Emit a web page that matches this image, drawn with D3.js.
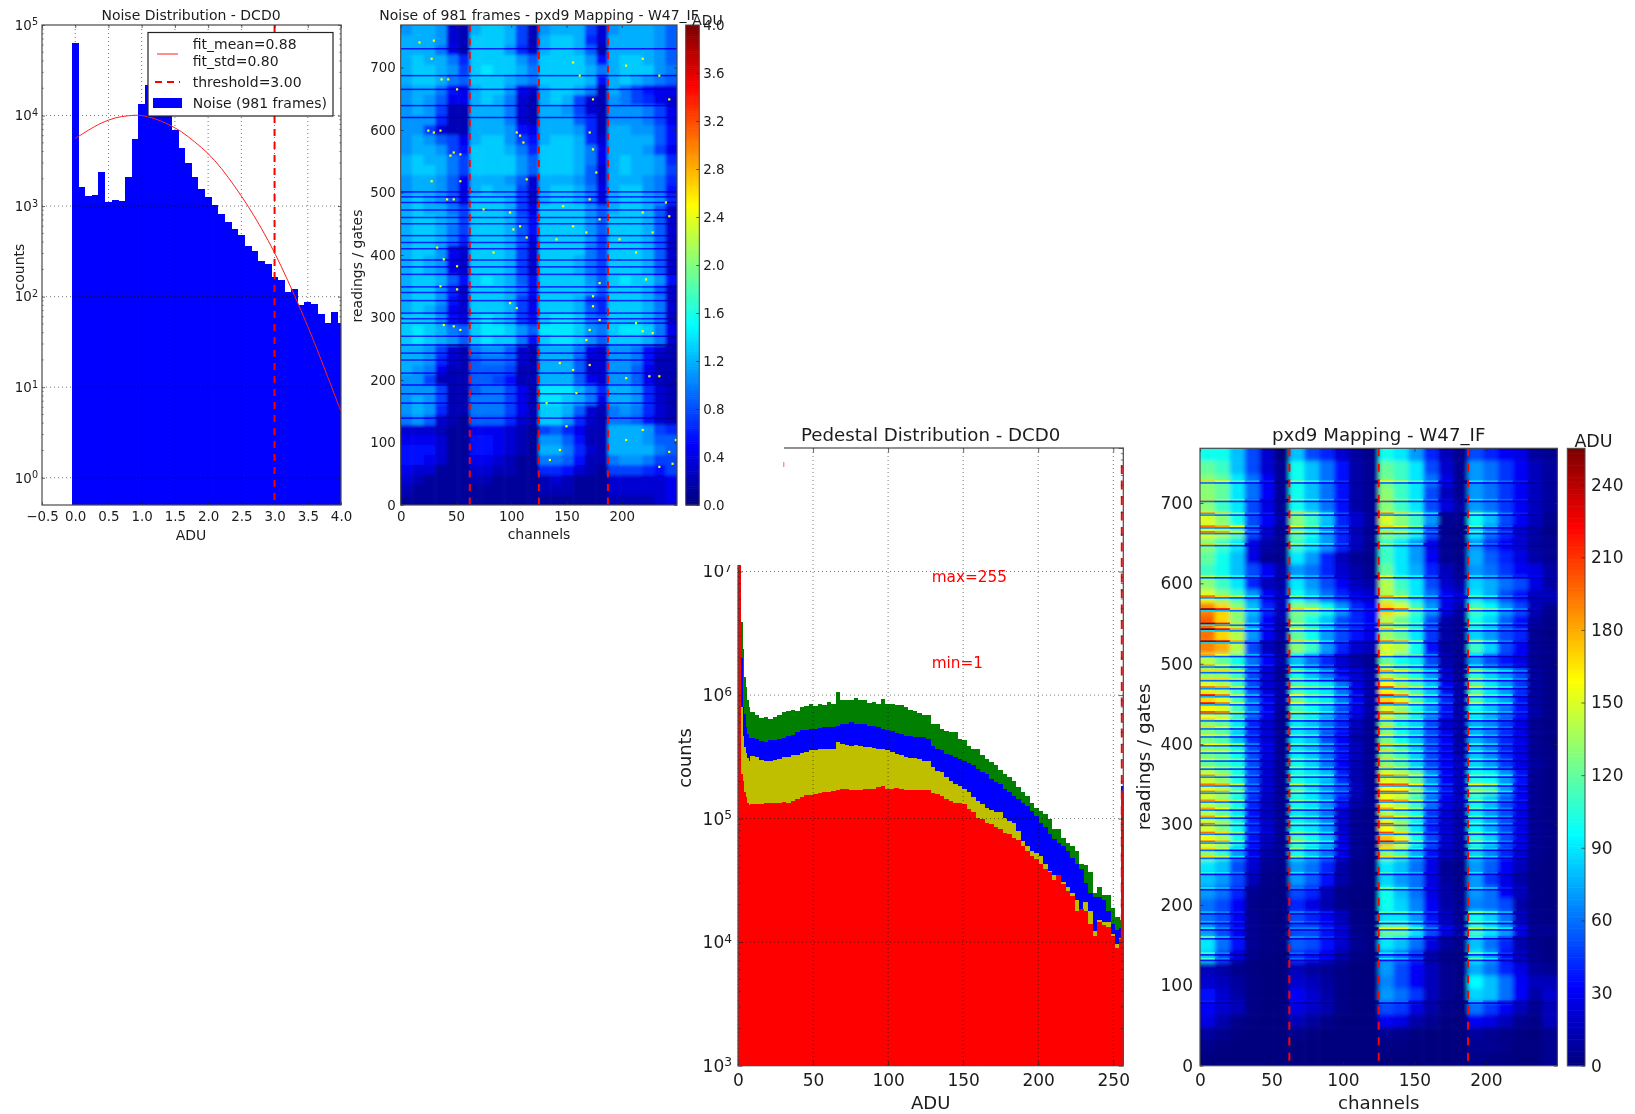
<!DOCTYPE html>
<html><head><meta charset="utf-8">
<script src="https://cdn.jsdelivr.net/npm/d3@7"></script>
<style>
html,body{margin:0;padding:0;background:#fff;width:1635px;height:1114px;overflow:hidden}
svg{position:absolute;left:0;top:0}
text{font-family:"DejaVu Sans";fill:#1c1c1c}
</style></head><body>
<script>
// ---------- Noise histogram ----------
const noiseBinStart=-0.05, noiseBinWidth=0.1;
const noiseCounts=[63000,1630,1290,1320,2390,1100,1180,1150,2090,5530,13500,22000,18000,14000,11000,7000,4330,3030,2100,1550,1250,1030,810,667,557,475,359,319,247,227,165,153,113,122,80,88,82,65,51,68,51];
const fitX=[0,0.1,0.2,0.4,0.6,0.8,1,1.2,1.4,1.6,1.8,2,2.2,2.4,2.6,2.8,3,3.2,3.4,3.6,3.8,4];
const fitY=[5600,6200,6900,8300,9400,9950,10000,9200,8000,6600,5100,3800,2600,1650,1000,570,305,150,70,31,13,5.4];
const noiseHistXTicks=[-0.5,0,0.5,1,1.5,2,2.5,3,3.5,4];
const thresholdADU=3;
const legendLines=["fit_mean=0.88","fit_std=0.80","threshold=3.00","Noise (981 frames)"];
// ---------- Heat maps: 24 columns x 48 rows, top row first ----------
const noiseGrid=[ // units of 0.1 ADU
[10,11,11,10,3,2,11,12,12,11,7,2,10,11,11,11,7,3,10,11,11,11,10,8],
[11,11,11,10,3,2,12,12,12,11,7,2,11,12,12,11,6,3,11,11,11,11,10,8],
[11,11,11,9,4,2,12,12,12,10,6,3,11,12,12,11,8,2,11,11,11,11,10,8],
[11,12,11,11,9,6,12,12,12,12,10,8,12,12,12,12,10,5,11,12,12,11,10,8],
[11,12,12,11,10,7,12,13,12,12,11,9,12,12,12,12,11,9,11,12,12,12,10,9],
[11,12,12,11,9,8,12,12,12,11,10,9,12,12,12,12,11,5,11,12,11,10,9,8],
[10,11,11,9,5,4,11,12,12,10,4,3,11,12,12,11,9,2,11,9,7,5,4,4],
[10,11,10,8,4,4,11,12,11,9,3,2,11,12,11,7,3,2,10,9,7,6,4,3],
[10,11,10,7,2,2,11,11,11,9,3,2,11,11,10,7,3,2,10,10,10,9,7,4],
[10,10,10,6,2,2,11,11,11,9,3,2,11,11,11,8,6,2,10,10,10,9,7,4],
[10,10,7,3,2,2,11,11,11,10,5,4,11,11,11,10,6,2,11,11,10,10,8,5],
[10,11,10,8,7,4,11,12,12,10,7,5,11,12,12,11,6,3,11,11,11,11,8,5],
[10,11,11,10,7,5,12,12,12,11,9,6,12,12,12,11,9,4,11,11,11,10,7,4],
[11,12,11,11,9,7,12,12,12,12,10,8,12,12,12,11,9,4,11,12,11,11,10,6],
[11,12,12,11,9,7,12,12,12,12,10,8,12,12,12,11,8,3,11,12,11,11,10,7],
[10,11,11,10,8,4,11,11,11,10,8,3,11,11,11,10,8,3,11,11,11,10,9,6],
[10,11,11,10,8,4,11,12,11,11,7,3,11,12,12,11,9,4,11,12,12,10,9,5],
[11,12,11,10,8,4,12,12,12,11,7,3,11,12,12,11,9,4,11,12,12,11,10,6],
[11,12,11,11,9,7,12,12,12,11,7,4,12,12,12,12,10,8,11,12,12,11,8,3],
[11,12,12,11,10,7,12,12,12,11,8,5,12,12,12,12,10,8,12,12,12,11,8,3],
[11,12,12,11,9,7,12,12,12,11,8,5,12,12,12,12,10,8,12,12,12,11,8,3],
[11,12,12,11,9,6,12,12,12,11,8,4,12,12,12,12,10,7,12,12,12,11,8,3],
[11,12,12,10,4,3,12,12,12,11,7,3,12,12,12,12,9,7,12,12,12,11,8,3],
[11,12,11,10,4,3,12,12,12,11,7,3,12,12,12,11,9,7,12,12,12,11,8,3],
[11,12,11,10,4,3,12,12,12,11,7,3,12,12,12,11,9,7,12,12,12,11,8,3],
[11,12,12,11,8,5,12,13,12,11,8,5,12,12,12,12,10,8,12,13,12,12,10,5],
[11,12,12,10,6,3,12,12,12,11,9,5,12,12,12,12,11,8,12,12,12,11,8,3],
[11,12,12,10,5,3,12,12,12,11,7,4,12,12,12,11,7,6,12,12,12,11,9,3],
[11,12,11,9,4,3,12,12,12,11,7,4,12,12,12,11,8,6,12,12,12,11,9,3],
[12,12,12,10,5,4,12,13,12,11,7,5,12,13,13,12,9,8,12,12,12,11,9,3],
[12,13,12,11,9,8,12,13,13,12,10,8,13,13,13,12,10,9,12,13,13,12,9,4],
[12,13,12,11,10,8,12,13,12,12,9,5,12,13,13,12,10,8,12,12,12,11,9,3],
[11,11,10,7,3,2,9,10,10,8,3,2,11,11,11,9,4,3,10,10,9,5,3,2],
[11,11,10,6,3,2,8,9,9,8,3,2,11,11,11,8,3,3,10,10,9,5,2,2],
[11,10,9,4,2,2,8,8,8,7,2,2,11,11,11,8,3,3,10,10,8,4,2,2],
[10,10,7,2,2,2,8,8,7,5,2,2,11,11,11,8,4,3,10,10,8,4,2,2],
[10,10,10,7,2,2,8,9,9,7,4,2,13,13,13,11,9,6,11,11,10,6,3,2],
[10,11,10,7,2,2,9,9,9,7,4,2,13,13,12,11,9,4,11,11,10,6,3,2],
[10,11,10,6,2,2,9,9,9,7,4,2,12,12,11,8,3,2,9,10,9,6,3,2],
[9,10,8,3,2,1,8,8,8,6,3,2,12,12,10,6,3,2,9,9,8,5,3,2],
[3,3,3,2,1,1,4,4,4,3,2,1,7,8,6,4,2,2,11,11,11,10,7,6],
[4,4,4,3,1,1,5,5,4,3,2,1,10,10,8,5,2,2,11,11,11,10,8,8],
[5,5,5,3,1,1,5,5,4,3,2,1,11,11,9,6,3,2,11,11,11,11,9,8],
[5,5,4,3,1,1,4,4,3,2,1,1,9,9,8,5,2,2,9,10,10,9,7,7],
[4,3,3,1,1,1,3,3,2,2,1,1,6,6,5,3,2,1,7,7,7,6,5,7],
[3,2,1,1,1,1,2,2,1,1,1,1,2,3,2,1,1,1,3,3,3,3,3,4],
[2,1,1,1,1,1,1,1,1,1,1,1,2,2,2,1,1,1,3,3,3,3,3,4],
[1,1,1,1,1,1,1,1,1,1,1,1,1,1,1,1,1,1,2,2,2,2,3,4]];
const noiseDarkReadings=[730,687,665,639,620,501,493,484,472,460,450,431,420,410,392,381,369,349,340,327,307,298,291,270,256,243,232,211,192,178,163,139];
const noiseHotChannels=[37,43,28,30,17,51,48,54,45,25,30,36,42,48,54,28,75,99,102,108,114,105,108,111,114,141,156,162,174,171,174,177,171,180,168,204,219,219,234,228,240,243,243,156,147,198,213,84,39,51,33,39,48,54,36,51,99,105,174,180,171,168,213,219,228,234,225,204,156,144,159,171,132,174,180,222,249,243,246,234,150,144,135,204,219];
const noiseHotReadings=[681,681,714,743,740,665,564,561,559,599,596,599,489,489,518,518,473,468,441,446,428,596,591,580,521,425,708,687,649,596,569,532,489,457,436,703,714,468,687,436,484,649,462,446,478,425,404,404,393,382,412,288,286,280,350,345,323,315,318,296,280,264,291,278,275,206,206,203,216,227,179,224,163,334,355,361,104,85,66,61,126,88,72,104,120];
const noiseHotValue=2.5;
const pedestalGrid=[ // ADU
[100,100,80,50,20,0,80,50,40,20,8,3,100,90,70,40,15,5,50,40,30,25,8,5],
[120,110,80,50,20,5,100,80,60,35,10,5,120,110,90,50,20,5,70,60,45,30,15,8],
[130,120,90,60,30,5,100,80,60,35,10,5,125,110,90,60,25,5,70,60,45,30,15,8],
[130,120,90,60,30,5,100,80,60,35,10,5,130,110,90,50,15,5,70,60,45,30,15,8],
[130,110,90,50,25,5,100,80,60,35,10,5,130,110,90,50,25,10,70,60,45,30,15,8],
[150,130,100,50,30,10,130,110,80,40,20,8,150,130,110,70,5,5,100,80,50,30,15,5],
[150,140,120,50,20,5,120,100,70,40,15,5,130,120,100,50,5,3,90,60,40,20,10,3],
[130,110,90,25,10,5,110,90,70,40,15,5,110,90,70,25,5,3,70,45,30,20,8,5],
[120,100,80,25,5,3,90,70,40,15,5,3,110,90,70,30,5,3,75,55,40,25,10,5],
[110,100,80,50,30,10,70,60,40,20,10,5,120,90,75,40,15,5,70,60,45,30,25,10],
[130,110,90,40,15,10,90,70,50,30,15,10,140,110,90,50,20,10,85,75,60,50,25,10],
[150,130,110,70,30,15,100,80,60,40,25,20,140,120,90,60,30,20,90,75,50,35,15,15],
[190,170,130,80,40,15,130,120,100,70,40,30,170,150,110,70,25,10,110,95,70,50,15,5],
[200,170,130,70,30,10,120,100,80,50,40,30,140,120,100,50,10,5,100,85,55,35,8,3],
[195,170,140,70,30,10,120,100,70,50,35,25,135,120,90,45,10,5,85,70,50,40,5,2],
[190,180,140,50,15,5,130,110,70,40,20,15,150,140,100,35,8,5,110,85,50,30,5,3],
[140,120,100,60,30,10,80,60,40,20,10,5,120,100,90,50,12,5,70,50,35,25,5,3],
[130,130,110,50,20,5,100,80,60,30,20,10,140,120,100,70,20,5,105,85,70,50,8,3],
[150,140,110,50,20,10,110,100,90,60,25,10,160,130,110,80,30,10,115,90,70,45,8,3],
[170,150,110,60,30,10,120,100,90,60,30,10,170,150,110,80,40,10,110,85,70,35,8,3],
[160,150,110,60,30,5,110,100,80,50,25,10,150,130,100,70,35,10,95,80,60,35,10,3],
[130,120,90,40,20,5,90,80,60,40,15,5,130,100,85,50,20,10,75,65,45,25,5,2],
[125,115,80,40,20,5,90,80,50,30,10,5,125,100,80,50,30,8,75,60,40,25,5,2],
[125,120,100,50,25,5,90,80,60,35,15,5,130,110,85,50,30,10,80,65,40,25,5,2],
[120,110,100,50,20,5,100,85,60,30,12,5,130,115,85,50,30,15,85,70,45,25,8,3],
[145,130,100,50,20,5,100,90,80,40,12,5,150,140,120,70,30,15,100,95,70,35,5,2],
[150,140,110,50,20,5,110,90,70,50,15,5,160,155,125,70,35,15,120,110,70,30,5,2],
[145,130,100,40,15,5,100,90,70,35,10,5,155,140,110,60,25,15,100,80,50,30,5,2],
[140,120,90,35,15,5,90,80,60,20,5,3,140,120,100,45,20,10,90,70,50,25,5,2],
[150,130,100,40,20,5,100,90,70,20,5,3,160,130,90,40,20,10,95,75,50,25,5,3],
[155,140,100,35,15,5,115,100,80,25,5,3,175,150,100,50,20,10,105,85,50,25,5,3],
[130,110,70,30,10,5,100,80,60,25,5,2,130,110,75,35,15,8,85,65,40,20,5,2],
[90,80,50,20,5,3,70,60,40,10,2,1,90,80,60,25,5,3,70,55,30,15,3,1],
[80,70,50,15,3,2,70,55,35,10,2,1,85,70,60,25,8,3,70,45,25,10,2,1],
[70,60,40,5,2,1,50,40,15,3,1,0,100,80,60,25,10,5,70,60,30,15,3,1],
[60,50,30,3,1,1,40,25,12,3,0,0,100,85,65,30,10,5,65,60,50,10,2,1],
[60,50,30,5,2,1,50,40,30,15,2,1,90,90,70,35,15,5,100,85,60,15,3,2],
[70,50,30,5,2,1,50,50,35,20,3,1,120,120,90,50,25,10,110,90,70,25,5,5],
[90,60,35,5,2,1,55,50,35,20,5,2,90,80,60,25,8,3,80,60,40,12,3,1],
[85,50,20,3,1,0,45,35,25,10,2,1,70,60,40,10,3,2,90,70,35,15,5,2],
[15,10,3,1,0,0,15,8,5,2,0,0,70,50,30,15,5,2,75,60,40,25,8,5],
[20,15,8,2,0,0,20,15,8,2,0,0,65,50,30,15,5,2,95,80,60,30,15,15],
[35,20,10,2,0,0,30,20,10,2,0,0,70,60,45,15,5,2,85,80,60,30,10,20],
[30,20,15,2,0,0,25,18,12,2,0,0,50,45,25,10,3,1,60,45,30,15,5,15],
[25,12,3,1,0,0,15,8,3,0,0,0,30,25,10,5,1,0,30,25,15,5,2,15],
[8,4,1,0,0,0,3,1,0,0,0,0,5,3,1,0,0,0,8,5,3,1,0,5],
[3,1,0,0,0,0,0,0,0,0,0,0,2,1,0,0,0,0,5,5,3,1,1,5],
[0,0,0,0,0,0,0,0,0,0,0,0,0,0,0,0,0,0,3,2,1,0,0,5]];
const pedestalBrightReadings=[727,704,687,671,664,649,609,584,568,550,543,528,511,498,491,481,471,461,451,440,431,421,411,400,391,381,371,361,350,341,330,320,310,301,290,279,270,260,240,221,191,179,171,160,140,133,80];
const channelTicks=[0,50,100,150,200];
const readingTicks=[0,100,200,300,400,500,600,700];
const dcdBoundaries=[62.5,125,187.5];
const noiseBarTicks=[0,0.4,0.8,1.2,1.6,2,2.4,2.8,3.2,3.6,4];
const pedestalBarTicks=[0,30,60,90,120,150,180,210,240];
// ---------- Pedestal histogram: bin start ADU and counts in thousands ----------
const pedBinStarts=[0,1,2,3,4,5,6,7,8,11,14,17,20,23,26,29,32,35,38,41,44,47,50,53,56,59,62,65,68,71,74,77,80,83,86,89,92,95,98,101,104,107,110,113,116,119,122,125,128,131,134,137,140,143,146,149,152,155,158,161,164,167,170,173,176,179,182,185,188,191,194,197,200,203,206,209,212,215,218,221,224,227,230,233,236,239,242,245,248,251,254,255,256.7];
const pedGreen=[30000,30000,3900,2370,1400,1160,905,800,728,690,655,665,640,665,684,728,740,760,750,800,815,851,815,840,825,877,851,1055,916,905,916,950,916,905,860,877,851,934,851,851,825,825,800,760,750,715,684,684,586,578,533,510,500,500,443,430,390,367,367,325,305,286,270,248,230,216,203,179,163,153,135,123,116,109,100,82,82,70,64,60,55,43,42,37,25,28,24,24,19,16,15,185];
const pedBlue=[30000,30000,2000,800,700,550,480,450,450,440,425,420,430,435,440,450,465,475,500,517,523,533,533,543,550,550,550,567,586,586,604,586,586,578,567,567,550,533,523,510,492,480,470,470,462,456,456,443,390,367,356,334,325,318,305,292,281,270,253,238,230,210,197,189,174,163,153,144,135,127,116,105,93,85,75,68,64,60,55,48,43,39,30,25,23,23,22,18,14,12.5,13,185];
const pedOlive=[30000,30000,800,470,380,340,310,290,320,314,300,295,295,300,305,314,318,325,329,338,345,356,360,367,367,367,367,416,403,398,390,398,390,383,378,373,367,367,356,345,334,325,314,310,310,305,295,295,261,245,238,216,203,191,185,174,163,149,140,131,123,118,113,113,102,96,93,80,66,60,55,53,50,43,38,35,33.5,30.5,28,25,22,18.5,21,18,12.4,15,14.5,14.5,11.6,9.6,10.9,160];
const pedRed=[30000,30000,230,200,165,150,135,130,131,131,131,133,135,135,135,137,135,140,144,149,155,155,158,160,163,163,166,171,174,174,171,171,169,174,174,174,179,182,174,174,176,174,169,171,171,169,169,169,160,158,153,144,140,135,135,131,120,113,102,100,93,90,86,82,77,75,70,67,60,55,50,47,43,39,37,32,35,29.6,26,23.6,18,18.5,18,14,11.3,14.5,13.7,13.2,11.3,9,10.6,160];
const pedXTicks=[0,50,100,150,200,250];
const pedAnnotations=["max=255","min=1"];

// ---------- Shared helpers ----------
const jet=d3.scaleLinear().domain([0,.125,.375,.625,.875,1])
  .range(["#00007f","#0000ff","#00ffff","#ffff00","#ff0000","#7f0000"]).clamp(true);
const LOGMINOR=[2,3,4,5,6,7,8,9];
const fmtSup=(sel,fs)=>sel.each(function(d){
  const t=d3.select(this).text("10");
  t.append("tspan").attr("dy","-0.45em").attr("font-size",fs*0.72).text(Math.round(Math.log10(d)));
});
function clip(svg,id,l,t,w,h){
  svg.append("clipPath").attr("id",id).append("rect").attr("x",l).attr("y",t).attr("width",w).attr("height",h);
  return `url(#${id})`;
}
function frame(svg,o){ // spine, ticks, labels, title
  const {l,t,r,b,x,y,fs,xt,yt,xfmt,yfmt,logY}=o;
  const tk=o.tk||3.5;
  const gx=svg.append("g").attr("transform",`translate(0,${b})`)
    .call(d3.axisBottom(x).tickValues(xt).tickSize(-tk).tickPadding(o.xpad).tickFormat(xfmt));
  const gx2=svg.append("g").attr("transform",`translate(0,${t})`)
    .call(d3.axisTop(x).tickValues(xt).tickSize(-tk).tickFormat(""));
  const gy=svg.append("g").attr("transform",`translate(${l},0)`)
    .call(d3.axisLeft(y).tickValues(yt).tickSize(-tk).tickPadding(o.ypad).tickFormat(yfmt||(d=>d)));
  const gy2=svg.append("g").attr("transform",`translate(${r},0)`)
    .call(d3.axisRight(y).tickValues(yt).tickSize(-tk).tickFormat(""));
  [gx,gx2,gy,gy2].forEach(g=>{g.select(".domain").remove();g.selectAll("text").attr("font-size",fs).attr("font-family","DejaVu Sans").attr("fill","#1c1c1c");g.selectAll("line").attr("stroke","#222").attr("stroke-width",.7);});
  if(logY){
    fmtSup(gy.selectAll(".tick text"),fs);
    const minors=[];
    yt.slice(0,-1).forEach(d=>LOGMINOR.forEach(m=>minors.push(d*m)));
    const vis=minors.filter(m=>y(m)>=t&&y(m)<=b);
    svg.append("g").selectAll("line").data(vis.flatMap(m=>[[l,l+tk*.55,m],[r,r-tk*.55,m]])).join("line")
      .attr("x1",d=>d[0]).attr("x2",d=>d[1]).attr("y1",d=>y(d[2])).attr("y2",d=>y(d[2])).attr("stroke","#222").attr("stroke-width",.6);
  }
  svg.append("rect").attr("x",l).attr("y",t).attr("width",r-l).attr("height",b-t)
    .attr("fill","none").attr("stroke","#4a4a4a").attr("stroke-width",o.sw||1.2);
}
function grid(svg,x,y,xt,yt,l,t,r,b){
  const G=svg.append("g").attr("stroke","#000").attr("stroke-width",.7).attr("stroke-dasharray","1,3").attr("opacity",.75);
  G.selectAll(".gx").data(xt).join("line").attr("x1",d=>x(d)).attr("x2",d=>x(d)).attr("y1",t).attr("y2",b);
  G.selectAll(".gy").data(yt).join("line").attr("y1",d=>y(d)).attr("y2",d=>y(d)).attr("x1",l).attr("x2",r);
}
function label(svg,txt,xp,yp,fs,rot,anchor,fill){
  const s=svg.append("text").attr("font-size",fs).attr("text-anchor",anchor||"middle").attr("dominant-baseline","central").text(txt);
  s.attr("transform",`translate(${xp},${yp})`+(rot?` rotate(${rot})`:""));
  if(fill) s.attr("fill",fill).style("fill",fill);
  return s;
}
function heat(svg,o){
  const {l,t,r,b,gridData,vmax,scale,stripes,gain,id,blurStd,shadow,sh}=o;
  const nCols=gridData[0].length,nRows=gridData.length;
  const col=d3.scaleBand().domain(d3.range(nCols)).range([l,r]);
  const row=d3.scaleBand().domain(d3.range(nRows)).range([t,b]);
  const val=v=>jet(v*scale/vmax);
  const cp=clip(svg,id+"Clip",l,t,r-l,b-t);
  const F=svg.append("filter").attr("id",id+"Blur").attr("x","-5%").attr("y","-5%").attr("width","110%").attr("height","110%");
  F.append("feGaussianBlur").attr("stdDeviation",blurStd);
  const outer=svg.append("g").attr("clip-path",cp);
  const g=outer.append("g").attr("filter",`url(#${id}Blur)`);
  const pad=25;
  const cells=gridData.flatMap((rw,i)=>rw.map((v,j)=>({i,j,v})));
  g.selectAll("rect").data(cells).join("rect")
    .attr("x",d=>col(d.j)-(d.j==0?pad:0))
    .attr("width",d=>col.bandwidth()+.5+((d.j==0||d.j==nCols-1)?pad:0))
    .attr("y",d=>row(d.i)-(d.i==0?pad:0))
    .attr("height",d=>row.bandwidth()+.5+((d.i==0||d.i==nRows-1)?pad:0))
    .attr("fill",d=>val(d.v));
  const rY=d3.scaleLinear().domain([0,768]).range([b,t]);
  const sd=stripes.flatMap(rd=>{const i=Math.min(nRows-1,Math.floor((768-rd)/16));
    return gridData[i].map((v,j)=>({rd,j,v:v*gain}));});
  const stH=sh||1.8;
  outer.append("g").selectAll("rect").data(sd).join("rect")
    .attr("x",d=>col(d.j)).attr("width",col.bandwidth()+.5)
    .attr("y",d=>rY(d.rd)-stH/2).attr("height",stH).attr("fill",d=>val(d.v));
  if(shadow){
    const sdw=stripes.flatMap(rd=>{const i=Math.min(nRows-1,Math.floor((768-rd)/16));
      return gridData[i].map((v,j)=>({rd,j,v:v*shadow}));});
    outer.append("g").selectAll("rect").data(sdw).join("rect")
      .attr("x",d=>col(d.j)).attr("width",col.bandwidth()+.5)
      .attr("y",d=>rY(d.rd)+stH/2).attr("height",1.6).attr("fill",d=>val(d.v));
  }
  return outer;
}
function colorbar(svg,o){
  const {l,r,t,b,vmax,ticks,fs,fmt}=o;
  const cy=d3.scaleLinear().domain([0,vmax]).range([b,t]);
  const steps=d3.range(0,256);
  svg.append("g").selectAll("rect").data(steps).join("rect")
    .attr("x",l).attr("width",r-l)
    .attr("y",d=>cy((d+1)/256*vmax)).attr("height",(b-t)/256+.6)
    .attr("fill",d=>jet(d/255));
  const a=svg.append("g").attr("transform",`translate(${r},0)`)
    .call(d3.axisRight(cy).tickValues(ticks).tickSize(-o.tk).tickPadding(o.pad).tickFormat(fmt));
  a.select(".domain").remove();
  a.selectAll("text").attr("font-size",fs).attr("font-family","DejaVu Sans").attr("fill","#1c1c1c");
  a.selectAll("line").attr("stroke","#222").attr("stroke-width",.7);
  svg.append("rect").attr("x",l).attr("y",t).attr("width",r-l).attr("height",b-t).attr("fill","none").attr("stroke","#4a4a4a").attr("stroke-width",1);
}
function dashes(sel,xs,x,t,b,arr){
  sel.selectAll(".ds").data(xs).join("line").attr("x1",d=>x(d)).attr("x2",d=>x(d)).attr("y1",t).attr("y2",b)
    .attr("stroke","#ff0000").attr("stroke-width",2).attr("stroke-dasharray",arr);
}

// ========== Lower image (pedestal) ==========
const svgB=d3.select("body").append("svg").attr("width",1635).attr("height",1114).style("filter","blur(0.3px)");
{
  const l=738,r=1123.3,t=448,b=1065.7;
  const x=d3.scaleLinear().domain([0,256.7]).range([l,r]);
  const y=d3.scaleLog().domain([1e3,1e8]).range([b,t]);
  const cp=clip(svgB,"pedHistClip",l,t,r-l,b-t);
  const bars=svgB.append("g").attr("clip-path",cp).attr("shape-rendering","crispEdges");
  const series=[[pedGreen,"#007f00"],[pedBlue,"#0000ff"],[pedOlive,"#bfbf00"],[pedRed,"#ff0000"]];
  series.forEach(([vals,c])=>{
    bars.append("g").selectAll("rect").data(vals).join("rect")
      .attr("x",(d,i)=>x(pedBinStarts[i])).attr("width",(d,i)=>x(pedBinStarts[i+1])-x(pedBinStarts[i])+.4)
      .attr("y",d=>y(d*1000)).attr("height",d=>b-y(d*1000)).attr("fill",c);
  });
  grid(svgB,x,y,pedXTicks,[1e4,1e5,1e6,1e7],l,t,r,b);
  const dl=svgB.append("g").attr("clip-path",cp);
  dashes(dl,[1],x,t,b,"9,6.5");
  dl.append("line").attr("x1",x(255.7)).attr("x2",x(255.7)).attr("y1",465).attr("y2",b)
    .attr("stroke","#ff0000").attr("stroke-width",2).attr("stroke-dasharray","9,6.5");
  frame(svgB,{l,t,r,b,x,y,fs:17,xt:pedXTicks,yt:[1e3,1e4,1e5,1e6,1e7,1e8],xfmt:d=>d,yfmt:d=>"10",logY:true,xpad:8,ypad:6,tk:4.5});
  label(svgB,"Pedestal Distribution - DCD0",(l+r)/2,434.3,18.2);
  label(svgB,"ADU",(l+r)/2,1102,18);
  label(svgB,"counts",684,758,17.8,-90);
  label(svgB,pedAnnotations[0],931.7,576.5,15.3,0,"start","#ff0000");
  label(svgB,pedAnnotations[1],931.7,662.5,15.3,0,"start","#ff0000");
}
{
  const l=1200,r=1557.4,t=448.3,b=1065.7;
  const x=d3.scaleLinear().domain([0,250]).range([l,r]);
  const y=d3.scaleLinear().domain([0,768]).range([b,t]);
  const o=heat(svgB,{l,t,r,b,gridData:pedestalGrid,vmax:255,scale:1,stripes:pedestalBrightReadings,gain:1.3,shadow:.45,id:"pedMap",blurStd:2.2});
  dashes(o,dcdBoundaries,x,t,b,"8,7.5");
  frame(svgB,{l,t,r,b,x,y,fs:17,xt:channelTicks,yt:readingTicks,xfmt:d=>d,xpad:8,ypad:7,tk:3.5});
  label(svgB,"pxd9 Mapping - W47_IF",(l+r)/2,434.3,18.2);
  label(svgB,"channels",(l+r)/2,1102,18.2);
  label(svgB,"readings / gates",1143,757,18.2,-90);
  colorbar(svgB,{l:1567.3,r:1585,t,b,vmax:255,ticks:pedestalBarTicks,fs:17,fmt:d=>d,tk:3.5,pad:6});
  label(svgB,"ADU",1593.5,440.5,17.5);
}

// ========== Upper image (noise), its white margin hides part of the lower one ==========
const svgA=d3.select("body").append("svg").attr("width",1635).attr("height",1114).style("filter","blur(0.45px)");
svgA.append("rect").attr("x",0).attr("y",0).attr("width",784).attr("height",565).attr("fill","#fff");
svgA.append("rect").attr("x",783).attr("y",462).attr("width",1.4).attr("height",5).attr("fill","#ff9090");
{
  const l=42,r=341,t=25,b=505;
  const x=d3.scaleLinear().domain([-0.5,4]).range([l,r]);
  const y=d3.scaleLog().domain([0.5,1e5]).range([b,t]);
  const cp=clip(svgA,"noiseHistClip",l,t,r-l,b-t);
  const g=svgA.append("g").attr("clip-path",cp);
  g.append("g").attr("shape-rendering","crispEdges").selectAll("rect").data(noiseCounts).join("rect")
    .attr("x",(d,i)=>x(noiseBinStart+i*noiseBinWidth)).attr("width",x(noiseBinWidth)-x(0)+.3)
    .attr("y",d=>y(d)).attr("height",d=>b-y(d)).attr("fill","#0000ff");
  grid(svgA,x,y,noiseHistXTicks.slice(1,-1),[1,10,100,1000,1e4],l,t,r,b);
  const g2=svgA.append("g").attr("clip-path",cp);
  dashes(g2,[thresholdADU],x,t,b,"7,6");
  g2.append("path").datum(fitX.map((v,i)=>[v,fitY[i]])).attr("fill","none").attr("stroke","#ff2020").attr("stroke-width",1)
    .attr("d",d3.line().x(d=>x(d[0])).y(d=>y(d[1])).curve(d3.curveCatmullRom));
  frame(svgA,{l,t,r,b,x,y,fs:13.4,xt:noiseHistXTicks,yt:[1,10,100,1000,1e4,1e5],xfmt:d3.format(".1f"),yfmt:d=>"10",logY:true,xpad:6,ypad:4,tk:3});
  label(svgA,"Noise Distribution - DCD0",191,15,14);
  label(svgA,"ADU",191,535,14);
  label(svgA,"counts",19,267,14,-90);
  // legend
  const lg=svgA.append("g");
  lg.append("rect").attr("x",148).attr("y",32.5).attr("width",185).attr("height",83.5).attr("fill","#fff").attr("stroke","#222").attr("stroke-width",1.2);
  lg.append("line").attr("x1",157).attr("x2",178).attr("y1",54).attr("y2",54).attr("stroke","#ff2020").attr("stroke-width",1);
  lg.append("line").attr("x1",155).attr("x2",180).attr("y1",82).attr("y2",82).attr("stroke","#ff0000").attr("stroke-width",2).attr("stroke-dasharray","7,5");
  lg.append("rect").attr("x",153).attr("y",98).attr("width",29).attr("height",10).attr("fill","#0000ff");
  [[44],[61],[82],[103]].forEach(([yy],i)=>label(lg,legendLines[i],192.7,yy,14,0,"start"));
}
{
  const l=400.7,r=677,t=25,b=505;
  const x=d3.scaleLinear().domain([0,250]).range([l,r]);
  const y=d3.scaleLinear().domain([0,768]).range([b,t]);
  const o=heat(svgA,{l,t,r,b,gridData:noiseGrid,vmax:40,scale:1.08,stripes:noiseDarkReadings,gain:.5,sh:1.5,id:"noiseMap",blurStd:1.8});
  o.append("g").selectAll("rect").data(noiseHotChannels).join("rect")
    .attr("x",d=>x(d)-1.1).attr("y",(d,i)=>y(noiseHotReadings[i])-1.1).attr("width",2.2).attr("height",2.2)
    .attr("fill",jet(noiseHotValue/4));
  dashes(o,dcdBoundaries,x,t,b,"7,6.5");
  frame(svgA,{l,t,r,b,x,y,fs:13.4,xt:channelTicks,yt:readingTicks,xfmt:d=>d,xpad:6,ypad:5,tk:3});
  label(svgA,"Noise of 981 frames - pxd9 Mapping - W47_IF",539,15,14);
  label(svgA,"channels",539,534,14);
  label(svgA,"readings / gates",357,266,14,-90);
  colorbar(svgA,{l:685.7,r:699.3,t,b,vmax:4,ticks:noiseBarTicks,fs:13.4,fmt:d3.format(".1f"),tk:3,pad:4});
  label(svgA,"ADU",707.5,20,14);
}
</script>
</body></html>
